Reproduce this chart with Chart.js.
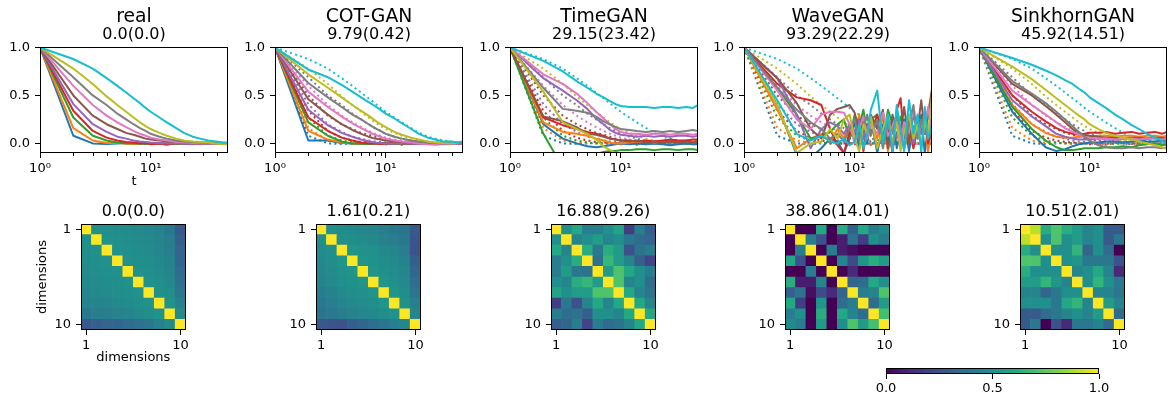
<!DOCTYPE html>
<html>
<head>
<meta charset="utf-8">
<script src="https://cdn.jsdelivr.net/npm/chart.js@4.4.0/dist/chart.umd.min.js"></script>
<style>
  body { margin: 0; background: #fff; overflow: hidden; }
  #page { position: relative; width: 1168px; height: 400px; overflow: hidden; }
  #page canvas { position: absolute; }
</style>
</head>
<body>
<div id="page"></div>
<script>
var titles = ['real', 'COT-GAN', 'TimeGAN', 'WaveGAN', 'SinkhornGAN'];
var acfScores = ['0.0(0.0)', '9.79(0.42)', '29.15(23.42)', '93.29(22.29)', '45.92(14.51)'];
var corrScores = ['0.0(0.0)', '1.61(0.21)', '16.88(9.26)', '38.86(14.01)', '10.51(2.01)'];

// lags
var T = [1, 2, 3, 4, 5, 6, 7, 8, 9, 10, 12, 14, 17, 20, 24, 28, 33, 39, 45, 50];
var TW = [1, 2, 3, 4, 5, 6, 7, 8, 9, 10, 11, 12, 13, 14, 16, 18, 20, 22, 24, 26, 28, 31, 34, 37, 40, 43, 46, 50];
var yTicks = [0, 0.5, 1];
var xTicks = [1, 2, 3, 4, 5, 6, 7, 8, 9, 10, 20, 30, 40, 50];
var minorTicks = [2, 3, 4, 5, 6, 7, 8, 9, 20, 30, 40];
var dimTicks = [1, 10];
var barTicks = [0, 0.5, 1];

var tab10 = ['#1f77b4', '#ff7f0e', '#2ca02c', '#d62728', '#9467bd', '#8c564b', '#e377c2', '#7f7f7f', '#bcbd22', '#17becf'];
var viridis = ['#440154', '#482576', '#414487', '#35608d', '#2a788e', '#21908c', '#22a884', '#43bf71', '#7ad151', '#bbdf27', '#fde725'];

var realAcf = [
  [1, 0.08, 0.0, -0.005, 0.0, 0.005, -0.005, 0.0, 0.005, 0.0, -0.005, 0.0, 0.005, 0.0, -0.01, 0.005, 0.01, 0.0, -0.005, 0.01],
  [1, 0.16, 0.03, 0.005, 0.005, 0.0, -0.005, 0.0, 0.0, 0.005, 0.0, -0.005, 0.0, 0.005, 0.0, -0.01, 0.0, 0.005, 0.0, -0.005],
  [1, 0.27, 0.08, 0.03, 0.01, 0.0, 0.005, 0.0, -0.005, 0.0, 0.005, 0.0, -0.005, 0.0, 0.005, 0.0, -0.005, 0.0, 0.005, 0.0],
  [1, 0.34, 0.13, 0.06, 0.03, 0.015, 0.01, 0.0, 0.005, -0.01, 0.0, -0.015, 0.005, 0.0, -0.005, 0.0, 0.005, -0.005, 0.0, 0.0],
  [1, 0.41, 0.2, 0.12, 0.07, 0.05, 0.03, 0.02, 0.015, 0.01, 0.005, 0.0, 0.005, 0.0, -0.005, 0.0, 0.005, 0.0, -0.005, 0.0],
  [1, 0.5, 0.29, 0.2, 0.15, 0.11, 0.09, 0.07, 0.05, 0.04, 0.03, 0.02, 0.015, 0.01, 0.005, 0.0, 0.005, 0.0, -0.005, 0.0],
  [1, 0.6, 0.4, 0.29, 0.22, 0.17, 0.13, 0.1, 0.08, 0.06, 0.04, 0.03, 0.015, 0.01, 0.005, 0.0, 0.0, -0.005, 0.0, 0.005],
  [1, 0.69, 0.5, 0.4, 0.31, 0.25, 0.2, 0.16, 0.13, 0.1, 0.07, 0.05, 0.03, 0.02, 0.015, 0.01, 0.005, 0.0, 0.005, 0.0],
  [1, 0.78, 0.62, 0.49, 0.4, 0.33, 0.27, 0.22, 0.18, 0.15, 0.11, 0.08, 0.05, 0.03, 0.02, 0.015, 0.01, 0.0, -0.01, -0.01],
  [1, 0.88, 0.78, 0.68, 0.6, 0.53, 0.47, 0.42, 0.37, 0.33, 0.27, 0.22, 0.16, 0.11, 0.07, 0.05, 0.03, 0.02, 0.01, 0.01]
];

var cotAcf = [
  [1, 0.03, 0.03, 0.005, 0.0, -0.005, 0.0, 0.005, 0.0, -0.01, 0.0, 0.0, 0.005, 0.0, -0.005, 0.0, 0.0, 0.005, 0.0, 0.0],
  [1, 0.13, 0.04, 0.01, 0.0, 0.0, 0.005, 0.0, -0.005, 0.0, 0.0, 0.005, 0.0, -0.005, 0.0, 0.005, 0.0, 0.0, -0.005, 0.0],
  [1, 0.22, 0.08, 0.02, 0.0, 0.0, -0.005, 0.0, 0.0, 0.005, 0.0, 0.0, -0.005, 0.0, 0.005, 0.0, 0.0, -0.005, 0.0, 0.0],
  [1, 0.27, 0.13, 0.06, 0.03, 0.01, 0.0, 0.0, -0.005, 0.0, 0.005, 0.0, 0.0, -0.005, 0.0, 0.0, 0.005, 0.0, -0.005, 0.0],
  [1, 0.35, 0.19, 0.11, 0.07, 0.04, 0.02, 0.01, 0.005, 0.0, 0.0, 0.005, 0.0, -0.005, 0.0, 0.0, 0.005, 0.0, 0.0, -0.005],
  [1, 0.46, 0.3, 0.2, 0.14, 0.1, 0.07, 0.05, 0.04, 0.03, 0.02, 0.015, 0.01, 0.005, 0.0, 0.0, -0.005, 0.0, 0.005, 0.0],
  [1, 0.54, 0.38, 0.28, 0.21, 0.16, 0.12, 0.09, 0.07, 0.05, 0.03, 0.02, 0.01, 0.0, -0.01, -0.015, -0.01, -0.01, 0.0, 0.0],
  [1, 0.63, 0.48, 0.38, 0.3, 0.25, 0.2, 0.16, 0.13, 0.1, 0.07, 0.05, 0.03, 0.02, 0.01, 0.005, 0.0, 0.0, 0.005, 0.0],
  [1, 0.72, 0.58, 0.48, 0.4, 0.34, 0.29, 0.24, 0.2, 0.17, 0.12, 0.09, 0.06, 0.04, 0.02, 0.01, 0.005, 0.0, 0.01, 0.02],
  [1, 0.77, 0.69, 0.61, 0.54, 0.48, 0.43, 0.39, 0.35, 0.31, 0.26, 0.21, 0.15, 0.1, 0.06, 0.04, 0.02, 0.02, 0.01, 0.02]
];

var timeAcf = [
  [1, 0.2, 0.05, 0.0, -0.03, -0.04, -0.03, -0.02, -0.01, 0.0, -0.01, 0.0, -0.01, 0.0, -0.01, -0.02, -0.01, 0.0, -0.01, -0.01],
  [1, 0.22, 0.12, 0.1, 0.08, 0.05, 0.03, 0.01, 0.0, 0.0, 0.01, 0.02, 0.02, 0.01, 0.02, 0.03, 0.02, 0.03, 0.02, 0.03],
  [1, 0.1, -0.25, -0.2, -0.15, -0.11, -0.09, -0.08, -0.08, -0.07, -0.07, -0.06, -0.06, -0.07, -0.06, -0.06, -0.07, -0.06, -0.06, -0.07],
  [1, 0.27, 0.19, 0.15, 0.12, 0.1, 0.08, 0.05, 0.04, 0.03, 0.03, 0.02, 0.03, 0.02, 0.03, 0.04, 0.03, 0.03, 0.04, 0.04],
  [1, 0.68, 0.55, 0.45, 0.36, 0.26, 0.2, 0.14, 0.11, 0.09, 0.08, 0.07, 0.08, 0.07, 0.08, 0.07, 0.08, 0.08, 0.07, 0.08],
  [1, 0.28, 0.23, 0.17, 0.1, 0.09, 0.07, 0.05, 0.04, 0.03, 0.02, 0.03, 0.01, 0.02, 0.01, 0.02, 0.01, 0.02, 0.01, 0.02],
  [1, 0.72, 0.62, 0.52, 0.42, 0.33, 0.26, 0.2, 0.15, 0.12, 0.1, 0.1, 0.09, 0.1, 0.1, 0.09, 0.1, 0.1, 0.09, 0.1],
  [1, 0.58, 0.36, 0.34, 0.32, 0.28, 0.23, 0.2, 0.17, 0.15, 0.14, 0.13, 0.12, 0.13, 0.12, 0.13, 0.12, 0.13, 0.14, 0.13],
  [1, 0.54, 0.22, 0.15, 0.1, 0.04, -0.03, -0.07, -0.1, -0.12, -0.15, -0.16, -0.17, -0.17, -0.18, -0.18, -0.18, -0.18, -0.18, -0.18],
  [1, 0.86, 0.75, 0.65, 0.58, 0.52, 0.48, 0.44, 0.41, 0.39, 0.38, 0.38, 0.38, 0.37, 0.38, 0.38, 0.37, 0.38, 0.37, 0.4]
];

// WaveGAN uses the denser TW lags
var waveAcf = [
  [1, 0.40, -0.12, -0.15, -0.05, 0.05, 0.02, -0.10, 0.05, 0.22, -0.05, 0.15, 0.0, 0.28, -0.10, 0.20, 0.02, 0.30, -0.05, 0.12, 0.25, -0.08, 0.18, 0.05, 0.30, -0.10, 0.15, 0.10],
  [1, 0.35, -0.05, 0.05, 0.10, 0.02, 0.15, 0.05, 0.20, 0.10, 0.30, -0.05, 0.10, 0.22, 0.05, 0.28, -0.08, 0.15, 0.30, 0.0, 0.22, 0.10, -0.05, 0.25, 0.12, 0.30, -0.10, 0.20],
  [1, 0.58, 0.30, 0.05, 0.08, 0.12, 0.20, 0.25, 0.05, 0.30, 0.18, 0.35, 0.10, 0.25, 0.30, 0.05, 0.35, 0.20, 0.08, 0.28, 0.15, 0.30, 0.05, 0.25, 0.20, 0.10, 0.28, 0.22],
  [1, 0.62, 0.48, 0.45, 0.40, 0.15, -0.02, -0.10, 0.12, 0.05, 0.25, -0.08, 0.20, 0.10, 0.30, 0.0, 0.18, -0.10, 0.35, 0.47, 0.05, 0.25, -0.05, 0.20, 0.10, 0.30, 0.0, 0.15],
  [1, 0.68, 0.30, -0.05, 0.15, 0.22, 0.18, 0.10, 0.20, 0.12, 0.25, 0.05, 0.18, 0.10, 0.22, 0.08, 0.15, 0.25, 0.05, 0.20, 0.12, 0.28, 0.0, 0.18, 0.10, 0.22, 0.05, 0.15],
  [1, 0.68, 0.42, 0.15, 0.05, 0.30, 0.36, 0.38, 0.40, 0.32, 0.10, 0.25, 0.05, 0.30, 0.15, 0.35, -0.05, 0.28, 0.20, 0.10, 0.38, 0.0, 0.30, 0.15, 0.45, 0.10, 0.30, 0.57],
  [1, 0.55, 0.25, 0.15, 0.30, 0.33, 0.33, 0.32, 0.20, 0.0, 0.15, 0.28, 0.05, 0.20, 0.10, 0.32, 0.08, 0.18, 0.30, 0.02, 0.22, 0.12, 0.35, 0.05, 0.20, 0.15, 0.38, 0.10],
  [1, 0.58, 0.35, 0.22, 0.15, 0.05, 0.10, 0.02, 0.15, 0.25, 0.05, 0.18, 0.30, 0.08, 0.25, -0.05, 0.22, 0.10, 0.30, 0.15, -0.05, 0.20, 0.40, 0.05, 0.25, 0.10, 0.20, 0.05],
  [1, 0.40, -0.10, 0.0, 0.02, 0.15, 0.05, 0.25, 0.30, 0.05, -0.08, 0.20, 0.10, 0.28, -0.05, 0.15, 0.30, 0.0, 0.22, -0.08, 0.12, 0.30, 0.05, 0.20, -0.05, 0.25, 0.10, 0.50],
  [1, 0.45, 0.10, 0.03, 0.08, 0.02, 0.0, 0.05, -0.02, 0.02, 0.20, -0.05, 0.10, 0.35, 0.55, 0.0, 0.30, -0.10, 0.40, 0.15, -0.08, 0.45, 0.10, 0.30, -0.10, 0.38, 0.05, 0.20]
];

var sinkAcf = [
  [1, 0.33, 0.1, -0.04, -0.08, -0.06, -0.03, -0.01, 0.0, 0.01, 0.01, 0.02, 0.02, 0.01, 0.02, 0.03, 0.02, 0.02, 0.03, 0.02],
  [1, 0.4, 0.2, 0.11, 0.07, 0.06, 0.06, 0.07, 0.07, 0.07, 0.08, 0.08, 0.07, 0.08, 0.08, 0.07, 0.08, 0.08, 0.07, 0.08],
  [1, 0.38, 0.15, 0.03, -0.04, -0.07, -0.07, -0.06, -0.05, -0.05, -0.05, -0.04, -0.04, -0.03, -0.04, -0.02, -0.01, 0.0, -0.02, -0.01],
  [1, 0.5, 0.33, 0.23, 0.16, 0.12, 0.1, 0.09, 0.1, 0.11, 0.11, 0.12, 0.1, 0.11, 0.12, 0.1, 0.11, 0.12, 0.1, 0.12],
  [1, 0.45, 0.28, 0.18, 0.1, 0.07, 0.05, 0.04, 0.04, 0.04, 0.05, 0.05, 0.04, 0.05, 0.05, 0.04, 0.05, 0.05, 0.04, 0.05],
  [1, 0.62, 0.5, 0.39, 0.3, 0.22, 0.15, 0.11, 0.09, 0.08, 0.07, 0.06, 0.06, 0.05, 0.06, 0.06, 0.05, 0.06, 0.06, 0.05],
  [1, 0.55, 0.4, 0.3, 0.22, 0.16, 0.12, 0.09, 0.07, 0.06, 0.05, 0.05, 0.04, 0.05, 0.05, 0.04, 0.05, 0.05, 0.04, 0.05],
  [1, 0.65, 0.52, 0.42, 0.33, 0.25, 0.18, 0.12, 0.07, 0.03, -0.02, -0.04, -0.05, -0.05, -0.04, -0.05, -0.04, -0.04, -0.05, -0.04],
  [1, 0.8, 0.67, 0.56, 0.47, 0.4, 0.34, 0.29, 0.25, 0.2, 0.15, 0.11, 0.08, 0.06, 0.04, 0.02, 0.0, -0.02, -0.04, -0.06],
  [1, 0.89, 0.82, 0.76, 0.71, 0.66, 0.62, 0.57, 0.53, 0.48, 0.42, 0.37, 0.3, 0.25, 0.19, 0.15, 0.1, 0.06, 0.03, 0.0]
];

var realCorr = [
  [1, .50, .50, .49, .48, .47, .46, .44, .40, .28],
  [.50, 1, .51, .50, .49, .48, .47, .45, .42, .30],
  [.50, .51, 1, .51, .50, .49, .48, .46, .43, .32],
  [.49, .50, .51, 1, .51, .50, .49, .47, .44, .33],
  [.48, .49, .50, .51, 1, .51, .50, .48, .45, .35],
  [.47, .48, .49, .50, .51, 1, .51, .50, .47, .37],
  [.46, .47, .48, .49, .50, .51, 1, .51, .49, .40],
  [.44, .45, .46, .47, .48, .50, .51, 1, .51, .44],
  [.40, .42, .43, .44, .45, .47, .49, .51, 1, .48],
  [.28, .30, .32, .33, .35, .37, .40, .44, .48, 1]
];

var cotCorr = [
  [1, .50, .48, .47, .46, .45, .42, .40, .38, .27],
  [.50, 1, .50, .49, .48, .47, .44, .42, .40, .26],
  [.48, .50, 1, .52, .51, .50, .47, .45, .42, .25],
  [.47, .49, .52, 1, .52, .51, .49, .47, .44, .30],
  [.46, .48, .51, .52, 1, .52, .50, .48, .46, .33],
  [.45, .47, .50, .51, .52, 1, .52, .50, .47, .36],
  [.42, .44, .47, .49, .50, .52, 1, .52, .49, .39],
  [.40, .42, .45, .47, .48, .50, .52, 1, .51, .43],
  [.38, .40, .42, .44, .46, .47, .49, .51, 1, .46],
  [.27, .26, .25, .30, .33, .36, .39, .43, .46, 1]
];

var timeCorr = [
  [1, .50, .60, .42, .42, .50, .58, .18, .42, .30],
  [.50, 1, .45, .50, .55, .45, .50, .40, .35, .32],
  [.60, .45, 1, .62, .40, .62, .55, .25, .38, .42],
  [.42, .50, .62, 1, .38, .66, .55, .45, .30, .20],
  [.42, .55, .40, .38, 1, .55, .72, .60, .50, .42],
  [.50, .45, .62, .66, .55, 1, .72, .45, .50, .35],
  [.58, .50, .55, .55, .72, .72, 1, .60, .45, .38],
  [.18, .40, .25, .45, .60, .45, .60, 1, .60, .45],
  [.42, .35, .38, .30, .50, .50, .45, .60, 1, .60],
  [.30, .32, .42, .20, .42, .35, .38, .45, .60, 1]
];

var waveCorr = [
  [1, 0, 0, .60, 0, .62, .30, .60, .42, .48],
  [0, 1, .42, .25, 0, .08, .38, .18, .50, .42],
  [0, .42, 1, 0, .42, .08, .04, 0, 0, 0],
  [.60, .25, 0, 1, 0, .45, .22, .52, .62, .55],
  [0, 0, .42, 0, 1, 0, .12, 0, 0, 0],
  [.62, .08, .08, .45, 0, 1, .32, .35, .60, .50],
  [.30, .38, .04, .22, .12, .32, 1, .42, .45, .72],
  [.60, .18, 0, .52, 0, .35, .42, 1, .35, .55],
  [.42, .50, 0, .62, 0, .60, .45, .35, 1, .70],
  [.48, .42, 0, .55, 0, .50, .72, .55, .70, 1]
];

var sinkCorr = [
  [1, .90, .62, .72, .62, .55, .45, .50, .28, .28],
  [.90, 1, .50, .72, .50, .55, .45, .50, .28, .40],
  [.62, .50, 1, .50, .50, .65, .32, .50, .35, 0],
  [.72, .72, .50, 1, .50, .52, .40, .40, .40, .25],
  [.62, .50, .50, .50, 1, .45, .50, .60, .45, .12],
  [.55, .55, .65, .52, .45, 1, .50, .65, .50, .40],
  [.45, .45, .32, .40, .50, .50, 1, .45, .45, .40],
  [.50, .50, .50, .40, .60, .65, .45, 1, .55, .45],
  [.28, .28, .35, .40, .45, .50, .45, .55, 1, .35],
  [.28, .40, 0, .25, .12, .40, .40, .45, .35, 1]
];

var FONT = 'DejaVu Sans';
Chart.defaults.font.family = FONT;
Chart.defaults.color = '#000';

function hexRgb(h) {
  return [parseInt(h.substr(1, 2), 16), parseInt(h.substr(3, 2), 16), parseInt(h.substr(5, 2), 16)];
}

function cmap(v) {
  v = Math.max(0, Math.min(1, v));
  var p = v * 10, k = Math.min(9, Math.floor(p)), f = p - k;
  var a = hexRgb(viridis[k]), b = hexRgb(viridis[k + 1]);
  return 'rgb(' + Math.round(a[0] + (b[0] - a[0]) * f) + ',' + Math.round(a[1] + (b[1] - a[1]) * f) + ',' + Math.round(a[2] + (b[2] - a[2]) * f) + ')';
}

function makeCanvas(left, top, w, h) {
  var cv = document.createElement('canvas');
  cv.width = w; cv.height = h;
  cv.style.left = left + 'px'; cv.style.top = top + 'px';
  cv.style.width = w + 'px'; cv.style.height = h + 'px';
  document.getElementById('page').appendChild(cv);
  return cv;
}

function pts(ts, vals) {
  return ts.map(function (t, k) { return { x: t, y: vals[k] }; });
}

function fixTicks(list) {
  return function (scale) {
    scale.ticks = list.map(function (v) { return { value: v }; });
  };
}

// axes box + minor ticks on the log axes
var frame = {
  id: 'frame',
  afterDraw: function (chart) {
    var a = chart.chartArea, c = chart.ctx;
    var l = Math.round(a.left) + 0.5, t = Math.round(a.top) + 0.5;
    var r = Math.round(a.right) - 0.5, b = Math.round(a.bottom) - 0.5;
    c.save();
    c.strokeStyle = '#000';
    c.lineWidth = 1;
    c.strokeRect(l, t, r - l, b - t);
    var xs = chart.scales.x;
    if (xs && xs.type === 'logarithmic') {
      c.beginPath();
      minorTicks.forEach(function (v) {
        var px = Math.round(xs.getPixelForValue(v)) + 0.5;
        c.moveTo(px, b);
        c.lineTo(px, b + 3.5);
      });
      c.stroke();
    }
    c.restore();
  }
};
Chart.register(frame);

function titleOpts(text, size, lh, pad) {
  return { display: true, text: text, fullSize: false, color: '#000', font: { family: FONT, size: size, weight: 'normal', lineHeight: lh }, padding: pad };
}

function lineChart(i, acf, ts, withReal) {
  var cv = makeCanvas(Math.round(234.8 * i), 0, 232, 189);
  var sets = [];
  if (withReal) {
    realAcf.forEach(function (s, k) {
      sets.push({ data: pts(T, s), borderColor: tab10[k], borderWidth: 2, borderDash: [2, 3.3], order: 40 - k });
    });
  }
  acf.forEach(function (s, k) {
    sets.push({ data: pts(ts, s), borderColor: tab10[k], borderWidth: 2, order: 20 - k });
  });
  new Chart(cv, {
    type: 'line',
    data: { datasets: sets },
    options: {
      responsive: false,
      animation: false,
      events: [],
      elements: { point: { radius: 0 }, line: { tension: 0, borderJoinStyle: 'round', borderCapStyle: 'butt' } },
      layout: { padding: { left: 0, right: 4, top: 0, bottom: 0 } },
      plugins: {
        legend: { display: false },
        tooltip: { enabled: false },
        title: titleOpts(titles[i], 18.8, 1.1, { top: 6.6, bottom: 0 }),
        subtitle: titleOpts(acfScores[i], 16, 1.0, { top: 0, bottom: 4.2 })
      },
      scales: {
        x: {
          type: 'logarithmic',
          min: 1,
          max: 50,
          afterBuildTicks: fixTicks(xTicks),
          afterFit: function (s) { s.height = 36; },
          border: { display: false },
          grid: {
            drawOnChartArea: false,
            tickLength: 5,
            tickColor: function (c) { return c.tick && (c.tick.value === 1 || c.tick.value === 10) ? '#000' : 'rgba(0,0,0,0)'; }
          },
          ticks: {
            autoSkip: false,
            maxRotation: 0,
            padding: 3,
            font: { size: 13 },
            callback: function (v) { return v === 1 ? '10\u2070' : (v === 10 ? '10\u00b9' : ''); }
          },
          title: { display: i === 0, text: 't', font: { size: 13 }, padding: { top: 0, bottom: 0 } }
        },
        y: {
          min: -0.1,
          max: 1,
          afterBuildTicks: fixTicks(yTicks),
          afterFit: function (s) { s.width = 40; },
          border: { display: false },
          grid: { drawOnChartArea: false, tickLength: 5, tickColor: '#000' },
          ticks: { padding: 5, font: { size: 13 }, callback: function (v) { return v.toFixed(1); } }
        }
      }
    }
  });
}

function heatChart(i, m) {
  var left = Math.round(81 + 234.75 * i);
  var cv = makeCanvas(left - 50, 190, 161, 180);
  var cells = [], colors = [];
  for (var r = 0; r < 10; r++) {
    for (var c = 0; c < 10; c++) {
      cells.push({ x: c + 1, y: [r + 0.5, r + 1.5] });
      colors.push(cmap(m[r][c]));
    }
  }
  new Chart(cv, {
    type: 'bar',
    data: { datasets: [{ data: cells, backgroundColor: colors, borderWidth: 0, barPercentage: 1, categoryPercentage: 1 }] },
    options: {
      responsive: false,
      animation: false,
      events: [],
      layout: { padding: { left: 0, right: 6, top: 0, bottom: 0 } },
      plugins: {
        legend: { display: false },
        tooltip: { enabled: false },
        title: titleOpts(corrScores[i], 16, 1.0, { top: 14, bottom: 4 })
      },
      scales: {
        x: {
          type: 'linear',
          min: 0.5,
          max: 10.5,
          offset: false,
          afterBuildTicks: fixTicks(dimTicks),
          afterFit: function (s) { s.height = 40; },
          border: { display: false },
          grid: { offset: false, drawOnChartArea: false, tickLength: 5, tickColor: '#000' },
          ticks: { padding: 3, maxRotation: 0, autoSkip: false, font: { size: 13 }, callback: function (v) { return String(v); } },
          title: { display: i === 0, text: 'dimensions', font: { size: 13 }, padding: { top: 0, bottom: 4.5 } }
        },
        y: {
          type: 'linear',
          reverse: true,
          min: 0.5,
          max: 10.5,
          afterBuildTicks: fixTicks(dimTicks),
          afterFit: function (s) { s.width = 50; },
          border: { display: false },
          grid: { drawOnChartArea: false, tickLength: 5, tickColor: '#000' },
          ticks: { padding: 5, font: { size: 13 }, callback: function (v) { return String(v); } },
          title: { display: i === 0, text: 'dimensions', font: { size: 13 }, padding: { top: 4, bottom: 0 } }
        }
      }
    }
  });
}

function colorBar() {
  var cv = makeCanvas(866, 358, 253, 42);
  new Chart(cv, {
    type: 'bar',
    data: {
      labels: [''],
      datasets: [{
        data: [[0, 1]],
        borderWidth: 0,
        barPercentage: 1,
        categoryPercentage: 1,
        backgroundColor: function (ctx) {
          var a = ctx.chart.chartArea;
          if (!a) return viridis[5];
          var g = ctx.chart.ctx.createLinearGradient(a.left, 0, a.right, 0);
          viridis.forEach(function (col, k) { g.addColorStop(k / 10, col); });
          return g;
        }
      }]
    },
    options: {
      indexAxis: 'y',
      responsive: false,
      animation: false,
      events: [],
      layout: { padding: { left: 20, right: 20, top: 10, bottom: 0 } },
      plugins: { legend: { display: false }, tooltip: { enabled: false } },
      scales: {
        x: {
          type: 'linear',
          min: 0,
          max: 1,
          afterBuildTicks: fixTicks(barTicks),
          afterFit: function (s) { s.height = 26; },
          border: { display: false },
          grid: { drawOnChartArea: false, tickLength: 5, tickColor: '#000' },
          ticks: { padding: 2, maxRotation: 0, font: { size: 13 }, callback: function (v) { return v.toFixed(1); } }
        },
        y: { display: false }
      }
    }
  });
}

var allAcf = [realAcf, cotAcf, timeAcf, waveAcf, sinkAcf];
var allCorr = [realCorr, cotCorr, timeCorr, waveCorr, sinkCorr];

for (var i = 0; i < 5; i++) {
  lineChart(i, allAcf[i], i === 3 ? TW : T, i > 0);
  heatChart(i, allCorr[i]);
}
colorBar();
</script>
</body>
</html>
